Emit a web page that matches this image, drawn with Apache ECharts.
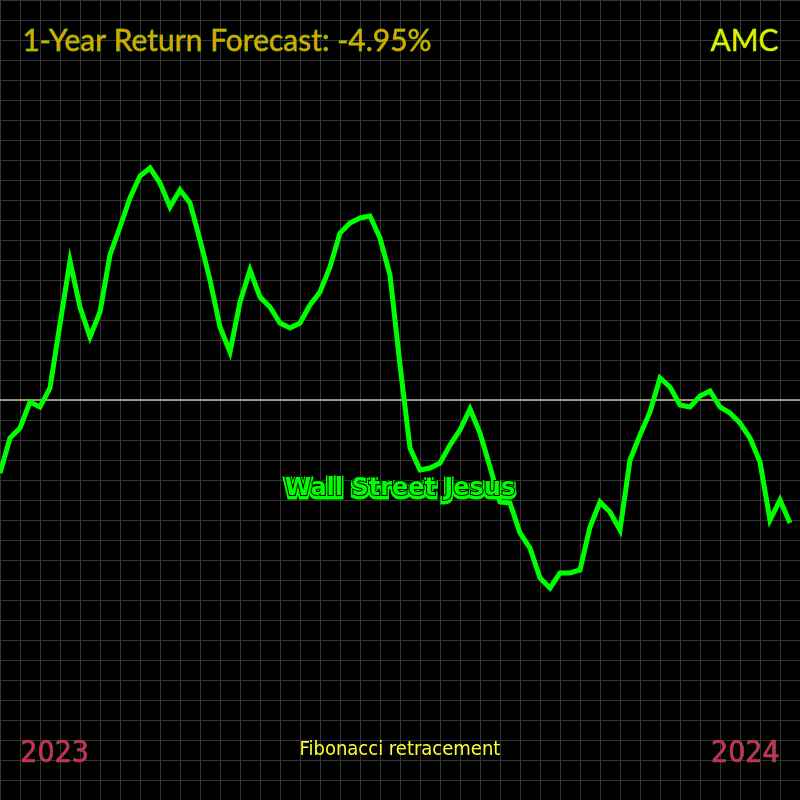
<!DOCTYPE html>
<html>
<head>
<meta charset="utf-8">
<script src="https://cdn.jsdelivr.net/npm/echarts@6/dist/echarts.min.js"></script>
<style>html,body{margin:0;padding:0;background:#000;}#c{width:800px;height:800px;}</style>
</head>
<body>
<div id="c"></div>
<script>
var prices = [32.7,36.2,37.2,39.8,39.3,41.2,47.6,53.9,49.3,46.3,48.8,54.5,57.3,60.2,62.4,63.2,61.7,59.3,61.0,59.7,
  56.0,52.0,47.3,44.8,49.8,53.0,50.3,49.3,47.7,47.2,47.7,49.5,50.8,53.3,56.7,57.7,58.2,58.4,56.2,52.5,
  43.5,35.2,33.0,33.2,33.7,35.5,37.0,39.1,36.7,33.3,29.8,29.7,26.7,25.2,22.2,21.2,22.7,22.7,23.0,27.3,
  29.8,28.8,27.0,34.0,36.5,38.8,42.2,41.3,39.5,39.3,40.4,40.9,39.3,38.7,37.7,36.2,33.8,28.0,30.0,27.7];
var fibLevel = 40;
var titleText = '1-Year Return Forecast: -4.95%';
var ticker = 'AMC';
var startYear = '2023';
var endYear = '2024';
var watermark = 'Wall Street Jesus';
var footer = 'Fibonacci retracement';

var chart = echarts.init(document.getElementById('c'));
var seriesData = prices.map(function(v, i){ return [i, v]; });
chart.setOption({
  backgroundColor: '#000',
  animation: false,
  grid: {left: 0, right: 0, top: 0, bottom: 0, containLabel: false},
  xAxis: {type: 'value', min: 0, max: 80, interval: 2, axisLine: {show: false}, axisTick: {show: false}, axisLabel: {show: false},
    splitLine: {show: true, lineStyle: {color: '#363636', width: 1}}},
  yAxis: {type: 'value', min: 0, max: 80, interval: 2, axisLine: {show: false}, axisTick: {show: false}, axisLabel: {show: false},
    splitLine: {show: true, lineStyle: {color: '#363636', width: 1}}},
  series: [{
    type: 'line', data: seriesData, symbol: 'none', z: 5,
    lineStyle: {color: '#00ff00', width: 5, join: 'miter'},
    markLine: {silent: true, symbol: 'none', label: {show: false}, z: 3,
      lineStyle: {color: '#c8c0a0', width: 1.5, type: 'solid'},
      data: [{yAxis: fibLevel}]}
  }],
  graphic: [
    {type: 'text', left: 22, top: 26, z: 10, style: {text: titleText, fill: '#e8a000', stroke: '#22bb00', lineWidth: 0.8, font: '30px Lato'}},
    {type: 'text', right: 21, top: 26, z: 10, style: {text: ticker, fill: '#e8e800', stroke: '#22bb00', lineWidth: 0.8, font: '30px Lato'}},
    {type: 'text', left: 'center', top: 476, z: 10, style: {text: watermark, fill: '#00ff00', stroke: '#00ff00', lineWidth: 5, font: 'bold 24px "DejaVu Sans"'}},
    {type: 'text', left: 'center', top: 476, z: 11, style: {text: watermark, fill: '#00ff00', stroke: '#000000', lineWidth: 2, font: 'bold 24px "DejaVu Sans"'}},
    {type: 'text', left: 20, top: 739, z: 10, style: {text: startYear, fill: '#e0206a', stroke: '#22aa00', lineWidth: 0.6, font: '30px "Liberation Sans Narrow", "DejaVu Sans Condensed"'}},
    {type: 'text', right: 20, top: 739, z: 10, style: {text: endYear, fill: '#e0206a', stroke: '#22aa00', lineWidth: 0.6, font: '30px "Liberation Sans Narrow", "DejaVu Sans Condensed"'}},
    {type: 'text', left: 'center', top: 740, z: 10, style: {text: footer, fill: '#ffff30', font: '20px "Liberation Sans Narrow", "DejaVu Sans Condensed"'}}
  ]
});
</script>
</body>
</html>
